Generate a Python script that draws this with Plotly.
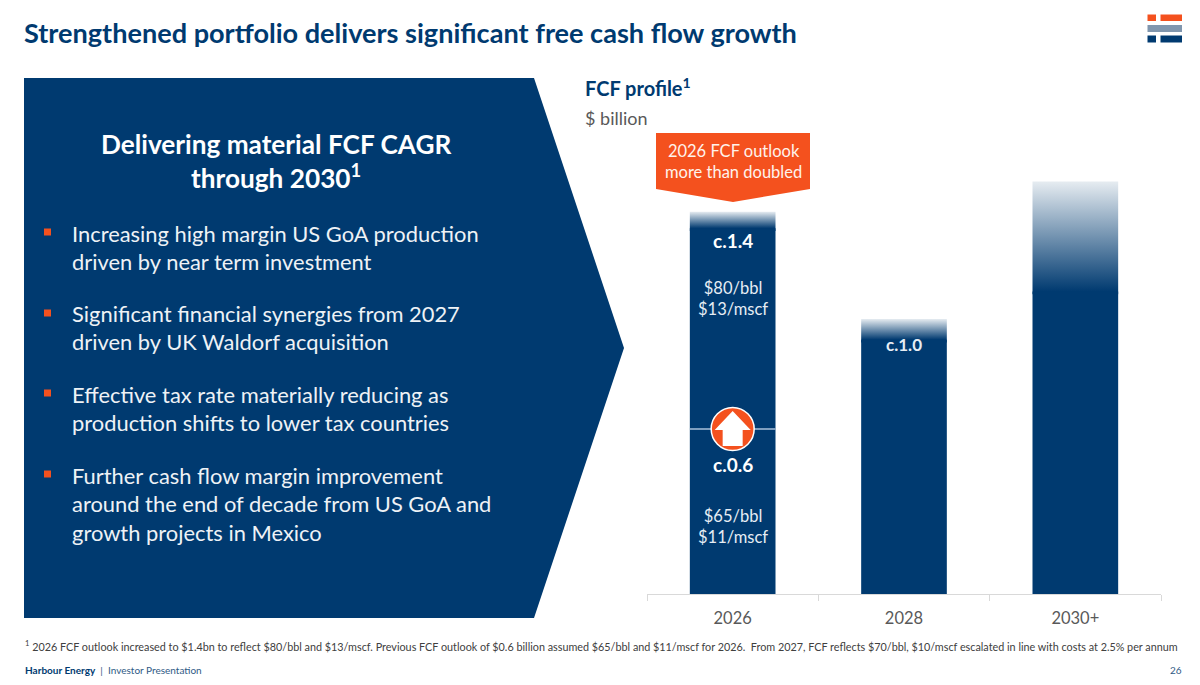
import plotly.graph_objects as go

W, H = 1200, 685
NAVY = "#003a70"
ORANGE = "#f4511e"
GREY = "#595959"
FONT = "Lato"

categories = ["2026", "2028", "2030+"]
fcf_solid = [1.33, 0.925, 1.10]
fcf_top = [1.39, 1.0, 1.5]
previous_outlook = 0.6
value_labels = ["c.1.4", "c.1.0", "c.0.6"]
price_labels = ["$80/bbl<br>$13/mscf", "$65/bbl<br>$11/mscf"]
bullets = [
    "Increasing high margin US GoA production<br>driven by near term investment",
    "Significant financial synergies from 2027<br>driven by UK Waldorf acquisition",
    "Effective tax rate materially reducing as<br>production shifts to lower tax countries",
    "Further cash flow margin improvement<br>around the end of decade from US GoA and<br>growth projects in Mexico",
]
footnote = (
    "<sup>1</sup> 2026 FCF outlook increased to $1.4bn to reflect $80/bbl and $13/mscf. "
    "Previous FCF outlook of $0.6 billion assumed $65/bbl and $11/mscf for 2026.  "
    "From 2027, FCF reflects $70/bbl, $10/mscf escalated in line with costs at 2.5% per annum"
)

BAR_W = 0.5
xs = list(range(len(categories)))


def px(x):
    return x / W


def py(y):
    return 1 - y / H


def label(x, y, text, size, color, bold=False, anchor="left"):
    if bold:
        text = f"<b>{text}</b>"
    fig.add_annotation(
        x=px(x), y=py(y), xref="paper", yref="paper", text=text, showarrow=False,
        xanchor=anchor, yanchor="middle", align=anchor,
        font=dict(family=FONT, size=size, color=color),
    )


def poly(points, color):
    path = "M " + " L ".join(f"{px(x):.5f},{py(y):.5f}" for x, y in points) + " Z"
    fig.add_shape(type="path", path=path, xref="paper", yref="paper",
                  fillcolor=color, line_width=0, layer="below")


def rect(x0, y0, x1, y1, color):
    fig.add_shape(type="rect", xref="paper", yref="paper",
                  x0=px(x0), x1=px(x1), y0=py(y0), y1=py(y1),
                  fillcolor=color, line_width=0)


fig = go.Figure()

fig.add_trace(go.Bar(x=xs, y=fcf_solid, width=BAR_W, marker=dict(color=NAVY, line_width=0)))

# faded tops of the bars, bottom edge tucked under the solid bar to hide the seam
for x, solid, top in zip(xs, fcf_solid, fcf_top):
    left, right = x - BAR_W / 2, x + BAR_W / 2
    fig.add_trace(go.Scatter(
        x=[left, right, right, left, left],
        y=[solid - 0.01, solid - 0.01, top, top, solid - 0.01],
        mode="lines", line_width=0, fill="toself",
        fillgradient=dict(type="vertical", start=solid, stop=top,
                          colorscale=[[0, NAVY], [1, "#e6ecf1"]]),
    ))

# previous outlook line and marker on the 2026 bar
fig.add_trace(go.Scatter(
    x=[xs[0] - BAR_W / 2, xs[0] + BAR_W / 2], y=[previous_outlook] * 2,
    mode="lines", line=dict(color="#a9c1da", width=1.5),
))
fig.add_trace(go.Scatter(
    x=[xs[0]], y=[previous_outlook], mode="markers",
    marker=dict(size=43, color=ORANGE, line=dict(color="white", width=1.5)),
))
fig.add_shape(
    type="path", xref="x", yref="y", xsizemode="pixel", ysizemode="pixel",
    xanchor=xs[0], yanchor=previous_outlook,
    path="M 0,18 L 18,-1 L 10,-1 L 10,-17 L -10,-17 L -10,-1 L -18,-1 Z",
    fillcolor="white", line_width=0,
)

# left panel
poly([(24, 78), (534, 78), (624, 348), (534, 618), (24, 618)], NAVY)
label(276, 161, "Delivering material FCF CAGR<br>through 2030<sup>1</sup>", 26.2, "white", bold=True, anchor="center")
bullet_y = [247, 327, 408, 503.5]
for text, y in zip(bullets, bullet_y):
    label(70, y, text, 21.9, "#eef2f6")
for y in [232, 313, 393, 474]:
    rect(44, y - 3.5, 51, y + 3.5, ORANGE)

# header
label(22, 33, "Strengthened portfolio delivers significant free cash flow growth", 27.1, NAVY, bold=True)
rect(1147.5, 14.5, 1156, 21, ORANGE)
rect(1160.5, 14.5, 1182, 21, ORANGE)
rect(1147.5, 25, 1182, 32, "#8096ae")
rect(1147.5, 35.5, 1156, 42.5, NAVY)
rect(1160.5, 35.5, 1182, 42.5, NAVY)

# chart titles and callout
label(583, 87, "FCF profile<sup>1</sup>", 20, NAVY, bold=True)
label(583, 118, "$ billion", 18, GREY)
poly([(656, 133), (810, 133), (810, 189), (733, 202), (656, 189)], ORANGE)
label(733, 161, "2026 FCF outlook<br>more than doubled", 16.5, "#fff3ec", anchor="center")

# labels on the bars
label(733, 241, value_labels[0], 19, "white", bold=True, anchor="center")
label(733, 298, price_labels[0], 16.5, "#e6edf4", anchor="center")
label(904, 344, value_labels[1], 17, "#e6edf4", bold=True, anchor="center")
label(733, 464, value_labels[2], 19, "white", bold=True, anchor="center")
label(733, 526, price_labels[1], 16.5, "#e6edf4", anchor="center")

# footer
label(23, 646, footnote, 10.8, "#404040")
label(23, 670, f"<span style='color:{NAVY}'><b>Harbour Energy</b></span>  |  Investor Presentation", 10, "#2f5a85")
label(1168, 670, "26", 10, "#2f5a85")

fig.update_layout(
    width=W, height=H, margin=dict(l=0, r=0, t=0, b=0),
    paper_bgcolor="white", plot_bgcolor="white", showlegend=False,
    font=dict(family=FONT),
    xaxis=dict(
        domain=[px(647), px(1161)], range=[-0.5, 2.5],
        tickvals=xs, ticktext=categories, ticks="", showgrid=False, zeroline=False,
        showline=True, linecolor="#d9d9d9", linewidth=1,
        tickfont=dict(family=FONT, size=16.5, color=GREY), ticklabelstandoff=9,
        minor=dict(tickvals=[-0.5, 0.5, 1.5, 2.5], ticks="outside", ticklen=6,
                   tickcolor="#d9d9d9", showgrid=False),
    ),
    yaxis=dict(domain=[py(594), py(154)], range=[0, 1.6], visible=False),
)

fig.write_html("out.html", config={"displayModeBar": False},
               post_script="document.body.style.margin='0'")
